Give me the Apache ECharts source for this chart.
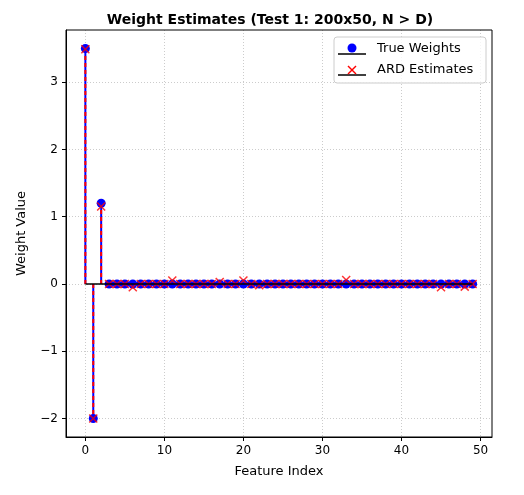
<!DOCTYPE html>
<html>
<head>
<meta charset="utf-8">
<script src="https://cdn.jsdelivr.net/npm/echarts@6/dist/echarts.min.js"></script>
<style>html,body{margin:0;padding:0;background:#fff}#c{width:524px;height:495px}</style>
</head>
<body>
<div id="c"></div>
<script>
const featureIndex = Array.from({ length: 50 }, (_, i) => i);
const trueWeights = [3.5, -2, 1.2].concat(Array(47).fill(0));
const ardEstimates = [
  3.49, -2.0, 1.15, 0.0, 0.0, 0.0, -0.05, 0.0, 0.0, 0.0,
  0.0, 0.05, 0.0, 0.0, 0.0, 0.0, 0.0, 0.03, 0.0, 0.0,
  0.05, 0.0, -0.02, 0.0, 0.0, 0.0, 0.0, 0.0, 0.0, 0.0,
  0.0, 0.0, 0.0, 0.06, 0.0, 0.0, 0.0, 0.0, 0.0, 0.0,
  0.0, 0.0, 0.0, 0.0, 0.0, -0.05, 0.0, 0.0, -0.04, 0.0
];
const xTicks = [0, 10, 20, 30, 40, 50];
const yTicks = [-2, -1, 0, 1, 2, 3];

const font = 'DejaVu Sans';
const fmt = (v) => String(v).replace('-', '\u2212');
const pairs = (ys) => featureIndex.map((x, i) => [x, ys[i]]);

const stems = (name, ys, color, dash) => ({
  type: 'custom',
  name,
  data: pairs(ys),
  renderItem: (params, api) => {
    const a = api.coord([api.value(0), 0]);
    const b = api.coord([api.value(0), api.value(1)]);
    return {
      type: 'line',
      shape: { x1: a[0], y1: a[1], x2: b[0], y2: b[1] },
      style: { stroke: color, lineWidth: 2, lineDash: dash }
    };
  },
  silent: true
});

const chart = echarts.init(document.getElementById('c'));
chart.setOption({
  animation: false,
  title: {
    text: 'Weight Estimates (Test 1: 200x50, N > D)',
    left: 265, top: 8, textAlign: 'center',
    textStyle: { fontFamily: font, fontSize: 14, fontWeight: 'bold', color: '#000' }
  },
  grid: { left: 66, right: 32, top: 30, bottom: 58 },
  xAxis: {
    type: 'value', min: -2.45, max: 51.45,
    name: 'Feature Index', nameLocation: 'middle', nameGap: 28,
    nameTextStyle: { fontFamily: font, fontSize: 13, color: '#000' },
    axisLine: { onZero: false, lineStyle: { color: '#000' } },
    axisTick: { customValues: xTicks, length: 4, lineStyle: { color: '#000' } },
    axisLabel: { customValues: xTicks, fontFamily: font, fontSize: 12, color: '#000', formatter: fmt },
    splitLine: { show: true, lineStyle: { color: '#ccc', type: [1, 2] } }
  },
  yAxis: {
    type: 'value', min: -2.275, max: 3.775,
    name: 'Weight Value', nameLocation: 'middle', nameGap: 38,
    nameTextStyle: { fontFamily: font, fontSize: 13, color: '#000' },
    axisLine: { show: true, onZero: false, lineStyle: { color: '#000' } },
    axisTick: { show: true, customValues: yTicks, length: 4, lineStyle: { color: '#000' } },
    axisLabel: { customValues: yTicks, fontFamily: font, fontSize: 12, color: '#000', formatter: fmt },
    splitLine: { show: true, lineStyle: { color: '#ccc', type: [1, 2] } }
  },
  graphic: [
    { type: 'rect', shape: { x: 66, y: 30, width: 426, height: 407 }, style: { fill: 'none', stroke: '#000', lineWidth: 1 }, z: 10 },
    { type: 'rect', shape: { x: 334, y: 37, width: 152, height: 46, r: 3 }, style: { fill: 'rgba(255,255,255,0.8)', stroke: '#ccc' }, z: 20 },
    { type: 'line', shape: { x1: 338, y1: 54, x2: 366, y2: 54 }, style: { stroke: '#000', lineWidth: 1.5 }, z: 21 },
    { type: 'circle', shape: { cx: 352, cy: 48, r: 4.5 }, style: { fill: '#0000ff' }, z: 21 },
    { type: 'text', style: { x: 377, y: 49, text: 'True Weights', font: '13px DejaVu Sans', fill: '#000', verticalAlign: 'middle' }, z: 21 },
    { type: 'line', shape: { x1: 338, y1: 75, x2: 366, y2: 75 }, style: { stroke: '#000', lineWidth: 1.5 }, z: 21 },
    { type: 'polyline', shape: { points: [[348, 66], [356, 74]] }, style: { stroke: '#ff0000', lineWidth: 1.5 }, z: 21 },
    { type: 'polyline', shape: { points: [[356, 66], [348, 74]] }, style: { stroke: '#ff0000', lineWidth: 1.5 }, z: 21 },
    { type: 'text', style: { x: 377, y: 70, text: 'ARD Estimates', font: '13px DejaVu Sans', fill: '#000', verticalAlign: 'middle' }, z: 21 }
  ],
  series: [
    stems('True stems', trueWeights, '#0000ff', null),
    stems('ARD stems', ardEstimates, '#ff0000', [4, 3]),
    {
      type: 'line', name: 'baseline', data: [[0, 0], [49, 0]],
      showSymbol: false, lineStyle: { color: '#000', width: 1.5 }, silent: true
    },
    {
      type: 'scatter', name: 'True Weights', data: pairs(trueWeights),
      symbol: 'circle', symbolSize: 9, itemStyle: { color: '#0000ff', opacity: 1 }, silent: true
    },
    {
      type: 'scatter', name: 'ARD Estimates', data: pairs(ardEstimates),
      symbol: 'path://M0,0L10,10M10,0L0,10', symbolSize: 8,
      itemStyle: { color: 'none', borderColor: '#ff0000', borderWidth: 1.5 }, silent: true
    }
  ]
});
</script>
</body>
</html>
